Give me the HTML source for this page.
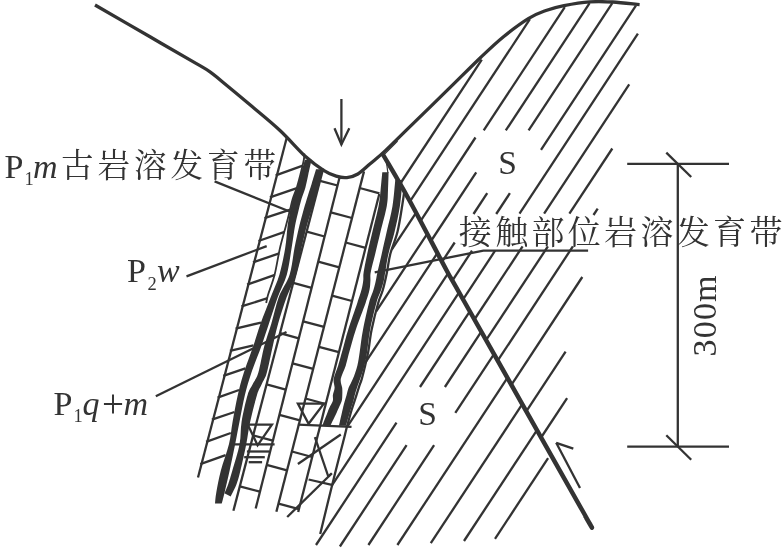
<!DOCTYPE html>
<html lang="zh"><head><meta charset="utf-8"><title>Karst development zones cross-section</title>
<style>
html,body{margin:0;padding:0;background:#fff;}
body{width:783px;height:550px;overflow:hidden;font-family:"Liberation Serif",serif;}
svg{display:block;filter:grayscale(1);}
</style></head><body>
<svg width="783" height="550" viewBox="0 0 783 550" stroke="#333" fill="#333" stroke-linecap="butt" font-family="Liberation Serif, serif">
<g stroke="#333" fill="none">
<line x1="481.8" y1="59.6" x2="400.0" y2="184.0" stroke-width="2.30"/>
<line x1="529.9" y1="19.2" x2="410.0" y2="201.4" stroke-width="2.30"/>
<line x1="564.8" y1="7.2" x2="483.7" y2="130.4" stroke-width="2.30"/>
<line x1="475.5" y1="137.5" x2="420.5" y2="221.2" stroke-width="2.30"/>
<line x1="589.6" y1="3.1" x2="505.8" y2="130.4" stroke-width="2.30"/>
<line x1="476.2" y1="172.4" x2="431.0" y2="241.0" stroke-width="2.30"/>
<line x1="612.3" y1="3.1" x2="528.6" y2="130.3" stroke-width="2.30"/>
<line x1="487.2" y1="193.2" x2="473.5" y2="214.0" stroke-width="2.30"/>
<line x1="454.7" y1="242.5" x2="442.0" y2="261.8" stroke-width="2.30"/>
<line x1="635.9" y1="5.6" x2="541.0" y2="149.8" stroke-width="2.30"/>
<line x1="509.9" y1="193.2" x2="496.2" y2="214.0" stroke-width="2.30"/>
<line x1="472.0" y1="250.7" x2="452.4" y2="280.6" stroke-width="2.30"/>
<line x1="637.9" y1="33.7" x2="519.5" y2="213.7" stroke-width="2.30"/>
<line x1="495.1" y1="250.7" x2="463.1" y2="299.4" stroke-width="2.30"/>
<line x1="629.2" y1="84.3" x2="544.1" y2="213.7" stroke-width="2.30"/>
<line x1="522.6" y1="246.4" x2="474.4" y2="319.5" stroke-width="2.30"/>
<line x1="612.3" y1="148.5" x2="569.4" y2="213.7" stroke-width="2.30"/>
<line x1="547.9" y1="246.4" x2="486.1" y2="340.2" stroke-width="2.30"/>
<line x1="597.7" y1="208.6" x2="593.5" y2="215.0" stroke-width="2.30"/>
<line x1="572.9" y1="246.4" x2="497.7" y2="360.7" stroke-width="2.30"/>
<line x1="582.3" y1="277.0" x2="511.4" y2="384.9" stroke-width="2.30"/>
<line x1="565.6" y1="351.6" x2="526.3" y2="411.3" stroke-width="2.30"/>
<line x1="567.1" y1="398.1" x2="541.1" y2="437.5" stroke-width="2.30"/>
<line x1="391.7" y1="249.7" x2="416.0" y2="212.8" stroke-width="2.30"/>
<line x1="376.2" y1="311.3" x2="427.2" y2="233.8" stroke-width="2.30"/>
<line x1="366.0" y1="361.6" x2="437.4" y2="253.1" stroke-width="2.30"/>
<line x1="347.8" y1="425.8" x2="448.2" y2="273.2" stroke-width="2.30"/>
<line x1="332.1" y1="485.2" x2="459.1" y2="292.3" stroke-width="2.30"/>
<line x1="469.8" y1="311.3" x2="420.0" y2="387.0" stroke-width="2.30"/>
<line x1="396.5" y1="422.7" x2="316.0" y2="545.0" stroke-width="2.30"/>
<line x1="481.3" y1="331.6" x2="444.9" y2="387.0" stroke-width="2.30"/>
<line x1="406.6" y1="445.1" x2="339.9" y2="546.5" stroke-width="2.30"/>
<line x1="494.0" y1="354.1" x2="455.3" y2="412.9" stroke-width="2.30"/>
<line x1="434.1" y1="445.1" x2="368.4" y2="545.0" stroke-width="2.30"/>
<line x1="507.4" y1="377.8" x2="397.4" y2="545.0" stroke-width="2.30"/>
<line x1="522.3" y1="404.1" x2="430.8" y2="543.2" stroke-width="2.30"/>
<line x1="537.0" y1="430.1" x2="464.0" y2="541.0" stroke-width="2.30"/>
<line x1="548.1" y1="458.1" x2="495.0" y2="538.8" stroke-width="2.30"/>
<line x1="286.8" y1="137.5" x2="198.0" y2="477.5" stroke-width="2.30"/>
<line x1="323.2" y1="168.5" x2="233.4" y2="510.8" stroke-width="2.30"/>
<line x1="339.8" y1="176.5" x2="255.7" y2="508.5" stroke-width="2.30"/>
<line x1="364.0" y1="171.4" x2="276.4" y2="511.7" stroke-width="2.30"/>
<line x1="379.3" y1="194.0" x2="298.2" y2="512.0" stroke-width="2.30"/>
<path d="M404.3,191.0 C404.0,193.3 403.4,198.2 402.3,205.0 C401.2,211.8 399.5,223.6 397.5,231.8 C395.5,240.0 392.1,247.3 390.3,254.0 C388.6,260.7 388.2,266.0 387.0,272.0 C385.8,278.0 384.3,284.8 382.8,290.0 C381.3,295.2 380.1,296.4 378.2,303.0 C376.3,309.6 373.3,321.6 371.6,329.8 C369.9,338.0 369.3,346.1 368.2,352.0 C367.1,357.9 366.3,360.9 365.2,365.4 C364.1,369.9 362.9,375.1 361.8,378.8 C360.7,382.5 359.8,384.4 358.7,387.8 C357.6,391.2 356.4,395.3 355.2,399.0 C354.0,402.7 352.9,405.7 351.6,410.0 C350.3,414.3 348.7,420.2 347.4,425.0 C346.1,429.8 346.1,430.2 343.9,439.0 C341.6,447.8 337.8,462.2 333.9,478.0 C329.9,493.8 322.5,524.7 320.2,534.0" stroke-width="2.30" fill="none"/>
<line x1="320.0" y1="180.8" x2="337.6" y2="185.5" stroke-width="2.30"/>
<line x1="306.7" y1="231.6" x2="324.6" y2="236.5" stroke-width="2.30"/>
<line x1="293.2" y1="282.9" x2="311.6" y2="287.9" stroke-width="2.30"/>
<line x1="280.0" y1="333.2" x2="298.8" y2="338.3" stroke-width="2.30"/>
<line x1="266.6" y1="384.4" x2="285.8" y2="389.6" stroke-width="2.30"/>
<line x1="253.2" y1="435.4" x2="272.9" y2="440.7" stroke-width="2.30"/>
<line x1="239.8" y1="486.3" x2="259.9" y2="491.7" stroke-width="2.30"/>
<line x1="330.8" y1="212.3" x2="352.0" y2="218.0" stroke-width="2.30"/>
<line x1="318.2" y1="261.7" x2="339.3" y2="267.4" stroke-width="2.30"/>
<line x1="303.1" y1="321.3" x2="324.0" y2="326.9" stroke-width="2.30"/>
<line x1="292.5" y1="363.3" x2="313.2" y2="368.9" stroke-width="2.30"/>
<line x1="279.4" y1="414.9" x2="299.9" y2="420.4" stroke-width="2.30"/>
<line x1="266.7" y1="464.9" x2="287.0" y2="470.4" stroke-width="2.30"/>
<line x1="359.7" y1="188.0" x2="379.5" y2="193.3" stroke-width="2.30"/>
<line x1="345.7" y1="242.5" x2="365.6" y2="247.9" stroke-width="2.30"/>
<line x1="332.0" y1="295.6" x2="352.0" y2="301.0" stroke-width="2.30"/>
<line x1="318.9" y1="346.8" x2="338.9" y2="352.2" stroke-width="2.30"/>
<line x1="305.5" y1="398.5" x2="325.7" y2="404.0" stroke-width="2.30"/>
<line x1="291.9" y1="451.5" x2="312.2" y2="457.0" stroke-width="2.30"/>
<line x1="278.5" y1="503.6" x2="298.9" y2="509.1" stroke-width="2.30"/>
<line x1="308.6" y1="479.5" x2="331.9" y2="484.9" stroke-width="2.30"/>
<path d="M304.9,159.8 C304.2,162.3 301.9,170.3 300.6,175.0 C299.3,179.7 298.3,184.0 297.0,188.0 C295.7,192.0 294.2,195.0 293.0,199.0 C291.8,203.0 290.9,207.5 290.0,212.0 C289.1,216.5 288.4,220.0 287.6,226.0 C286.8,232.0 286.6,239.9 285.2,248.0 C283.8,256.1 281.8,266.6 279.4,274.8 C277.0,283.0 273.9,288.8 270.8,297.0 C267.7,305.2 263.4,315.6 260.5,323.8 C257.6,332.0 256.1,337.8 253.3,346.0 C250.5,354.2 246.4,364.6 243.8,372.8 C241.2,381.0 239.7,386.8 237.8,395.0 C235.9,403.2 234.1,413.6 232.6,421.8 C231.1,430.0 231.0,435.8 229.0,444.0 C227.0,452.2 222.9,462.7 220.8,470.8 C218.7,478.9 217.3,486.9 216.3,492.4 C215.3,497.9 215.2,501.7 215.0,503.6 L221.7,503.6 C222.2,501.7 223.3,497.9 224.6,492.4 C225.9,486.9 227.8,478.9 229.6,470.8 C231.4,462.7 233.5,452.2 235.2,444.0 C236.8,435.8 237.9,430.0 239.5,421.8 C241.1,413.6 242.9,403.2 244.9,395.0 C246.9,386.8 248.7,381.0 251.4,372.8 C254.2,364.6 258.5,354.2 261.4,346.0 C264.3,337.8 266.2,332.0 268.9,323.8 C271.6,315.6 274.8,305.2 277.8,297.0 C280.8,288.8 284.5,283.0 286.8,274.8 C289.1,266.6 290.2,256.1 291.6,248.0 C293.0,239.9 293.9,232.0 295.0,226.0 C296.1,220.0 297.1,216.5 298.2,212.0 C299.3,207.5 300.3,203.0 301.5,199.0 C302.7,195.0 304.2,192.0 305.3,188.0 C306.4,184.0 307.1,179.7 308.2,175.0 C309.2,170.3 311.0,162.3 311.6,159.8 Z" fill="#333" stroke="none"/>
<line x1="275.7" y1="175.3" x2="302.8" y2="165.6" stroke-width="2.30"/>
<line x1="269.9" y1="197.3" x2="296.9" y2="188.2" stroke-width="2.30"/>
<line x1="264.5" y1="218.2" x2="290.4" y2="209.6" stroke-width="2.30"/>
<line x1="258.5" y1="241.0" x2="284.6" y2="231.8" stroke-width="2.30"/>
<line x1="253.0" y1="262.3" x2="279.2" y2="253.4" stroke-width="2.30"/>
<line x1="247.1" y1="284.7" x2="274.9" y2="274.9" stroke-width="2.30"/>
<line x1="241.5" y1="306.4" x2="267.6" y2="298.2" stroke-width="2.30"/>
<line x1="235.6" y1="328.7" x2="261.0" y2="322.6" stroke-width="2.30"/>
<line x1="229.9" y1="350.9" x2="253.5" y2="345.3" stroke-width="2.30"/>
<line x1="223.3" y1="375.9" x2="245.4" y2="368.3" stroke-width="2.30"/>
<line x1="217.6" y1="397.7" x2="239.1" y2="390.0" stroke-width="2.30"/>
<line x1="211.9" y1="419.6" x2="234.5" y2="412.0" stroke-width="2.30"/>
<line x1="206.1" y1="441.9" x2="230.8" y2="433.0" stroke-width="2.30"/>
<line x1="200.3" y1="464.1" x2="225.6" y2="455.1" stroke-width="2.30"/>
<path d="M316.0,169.2 C315.3,171.7 313.1,179.0 311.6,184.0 C310.1,189.0 308.2,194.3 306.8,199.0 C305.4,203.7 304.2,207.5 303.0,212.0 C301.8,216.5 300.7,220.0 299.3,226.0 C297.9,232.0 296.1,239.9 294.5,248.0 C292.9,256.1 292.2,266.6 289.6,274.8 C287.0,283.0 281.9,288.8 278.8,297.0 C275.8,305.2 273.7,315.6 271.3,323.8 C268.9,332.0 266.5,337.8 264.3,346.0 C262.1,354.2 260.2,366.5 258.3,372.8 C256.4,379.1 254.6,380.3 252.8,384.0 C251.0,387.7 249.5,388.7 247.6,395.0 C245.7,401.3 242.9,413.6 241.6,421.8 C240.3,430.0 241.1,435.8 239.6,444.0 C238.1,452.2 234.2,464.1 232.3,470.8 C230.4,477.5 229.6,480.2 228.3,484.0 C227.0,487.8 225.1,491.8 224.4,493.3 L230.7,496.5 C231.7,494.4 235.0,488.3 236.6,484.0 C238.2,479.7 238.8,477.5 240.4,470.8 C242.0,464.1 244.7,452.2 246.3,444.0 C247.9,435.8 248.4,430.0 250.2,421.8 C252.0,413.6 255.1,401.3 257.0,395.0 C258.9,388.7 260.2,387.7 261.8,384.0 C263.4,380.3 265.0,379.1 266.8,372.8 C268.6,366.5 270.9,354.2 272.8,346.0 C274.7,337.8 275.8,332.0 278.1,323.8 C280.4,315.6 283.7,305.2 286.7,297.0 C289.7,288.8 293.7,283.0 296.2,274.8 C298.7,266.6 299.7,256.1 301.5,248.0 C303.3,239.9 305.2,232.0 306.8,226.0 C308.4,220.0 309.6,216.5 311.0,212.0 C312.4,207.5 313.8,203.7 315.2,199.0 C316.6,194.3 318.4,189.0 319.6,184.0 C320.9,179.0 322.2,171.7 322.7,169.2 Z" fill="#333" stroke="none"/>
<path d="M304.3,153.5 C304.2,154.6 304.5,156.4 303.8,160.0 C303.1,163.6 301.5,170.3 300.3,175.0 C299.1,179.7 298.0,184.0 296.7,188.0 C295.4,192.0 293.9,195.0 292.7,199.0 C291.5,203.0 290.6,207.5 289.5,212.0 C288.4,216.5 287.5,220.0 285.9,226.0 C284.3,232.0 281.9,239.9 280.0,248.0 C278.1,256.1 276.6,267.0 274.6,274.8 C272.6,282.6 269.4,290.3 268.0,295.0 C266.6,299.7 266.5,301.7 266.2,303.0" stroke-width="1.80" fill="none"/>
<path d="M382.3,172.3 C382.0,175.2 381.2,184.4 380.6,190.0 C380.0,195.6 380.0,199.0 378.6,206.0 C377.2,213.0 374.3,223.8 372.4,231.8 C370.5,239.8 368.6,247.3 367.2,254.0 C365.8,260.7 364.4,267.4 363.7,271.9 C363.0,276.4 363.6,277.8 363.2,280.8 C362.8,283.8 362.5,286.1 361.5,289.8 C360.5,293.5 359.5,296.3 357.3,303.0 C355.1,309.7 350.8,321.6 348.2,329.8 C345.6,338.0 343.7,346.1 342.0,352.0 C340.3,357.9 339.6,360.9 338.2,365.4 C336.8,369.9 334.3,375.1 333.7,378.8 C333.1,382.5 334.7,385.1 334.6,387.8 C334.5,390.5 333.2,392.8 332.9,395.0 C332.6,397.2 333.4,398.9 332.8,401.0 C332.2,403.1 330.5,405.3 329.3,407.9 C328.1,410.5 326.9,414.0 325.8,416.8 C324.7,419.6 323.1,423.5 322.6,424.9 L330.7,424.9 C331.4,423.5 333.4,419.6 334.7,416.8 C336.0,414.0 337.5,410.5 338.7,407.9 C339.9,405.3 341.1,403.1 341.7,401.0 C342.3,398.9 342.2,397.2 342.3,395.0 C342.4,392.8 342.4,390.5 342.2,387.8 C341.9,385.1 340.2,382.5 340.8,378.8 C341.4,375.1 344.4,369.9 345.8,365.4 C347.2,360.9 347.6,357.9 349.3,352.0 C351.0,346.1 353.1,338.0 355.8,329.8 C358.5,321.6 363.3,309.7 365.6,303.0 C367.9,296.3 368.7,293.5 369.5,289.8 C370.3,286.1 370.2,283.8 370.4,280.8 C370.6,277.8 370.0,276.4 370.8,271.9 C371.6,267.4 373.6,260.7 375.2,254.0 C376.8,247.3 378.6,239.8 380.5,231.8 C382.4,223.8 385.6,213.0 386.8,206.0 C388.1,199.0 387.7,195.6 388.0,190.0 C388.3,184.4 388.5,175.2 388.6,172.3 Z" fill="#333" stroke="none"/>
<path d="M395.3,179.9 C394.8,184.2 393.9,197.3 392.5,206.0 C391.1,214.7 388.5,223.8 386.7,231.8 C384.9,239.8 383.2,247.3 381.7,254.0 C380.2,260.7 378.5,267.4 377.5,271.9 C376.5,276.4 376.5,277.8 375.8,280.8 C375.1,283.8 374.6,286.1 373.5,289.8 C372.4,293.5 370.8,296.3 369.0,303.0 C367.2,309.7 364.6,321.6 363.0,329.8 C361.4,338.0 360.6,346.1 359.7,352.0 C358.8,357.9 358.5,360.9 357.4,365.4 C356.3,369.9 354.4,375.1 352.9,378.8 C351.4,382.5 349.7,385.1 348.6,387.8 C347.6,390.5 347.2,392.8 346.6,395.0 C346.0,397.2 345.4,398.9 344.8,401.0 C344.2,403.1 344.0,403.8 343.0,407.9 C342.0,412.0 339.6,422.8 338.9,425.8 L345.9,425.8 C346.8,422.8 349.9,412.0 351.2,407.9 C352.4,403.8 352.8,403.1 353.4,401.0 C354.0,398.9 354.2,397.2 354.8,395.0 C355.4,392.8 356.1,390.5 357.0,387.8 C357.9,385.1 358.9,382.5 360.2,378.8 C361.4,375.1 363.4,369.9 364.5,365.4 C365.6,360.9 366.2,357.9 367.1,352.0 C368.0,346.1 368.6,338.0 370.1,329.8 C371.7,321.6 374.5,309.7 376.4,303.0 C378.2,296.3 380.0,293.5 381.2,289.8 C382.4,286.1 383.1,283.8 383.8,280.8 C384.5,277.8 384.5,276.4 385.3,271.9 C386.1,267.4 386.8,260.7 388.4,254.0 C389.9,247.3 392.7,239.8 394.6,231.8 C396.5,223.8 398.6,214.7 399.9,206.0 C401.2,197.3 402.1,184.2 402.5,179.9 Z" fill="#333" stroke="none"/>
<line x1="387.9" y1="173.0" x2="386.6" y2="163.5" stroke-width="1.20"/>
<line x1="297.9" y1="424.7" x2="351.5" y2="426.8" stroke-width="2.30"/>
<path d="M297.9,403.6 L323.8,403.6 L308.6,423.8 Z" stroke-width="2.30" fill="none"/>
<path d="M247.8,424.7 L271.9,424.7 L257.6,445.3 Z" stroke-width="2.30" fill="none"/>
<line x1="234.4" y1="444.4" x2="274.6" y2="444.4" stroke-width="2.30"/>
<line x1="246.9" y1="451.5" x2="269.2" y2="451.5" stroke-width="2.30"/>
<line x1="244.2" y1="457.2" x2="264.8" y2="457.2" stroke-width="2.30"/>
<line x1="248.7" y1="462.2" x2="262.1" y2="462.2" stroke-width="2.30"/>
<line x1="297.9" y1="464.0" x2="340.8" y2="434.5" stroke-width="2.30"/>
<line x1="314.9" y1="437.2" x2="328.3" y2="476.5" stroke-width="2.30"/>
<line x1="328.3" y1="476.5" x2="331.5" y2="473.5" stroke-width="2.30"/>
<line x1="287.2" y1="517.0" x2="331.9" y2="473.2" stroke-width="2.30"/>
<path d="M382.7,154.0 C387.1,161.7 398.6,180.7 409.2,200.0 C419.8,219.3 437.4,253.3 446.4,270.0 C455.4,286.7 440.8,260.0 463.4,300.0 C486.0,340.0 561.7,473.9 582.1,510.0 C602.5,546.1 585.0,515.7 585.6,516.8" stroke-width="4.50" fill="none"/>
<line x1="384.9" y1="153.9" x2="397.6" y2="141.2" stroke-width="1.20"/>
<line x1="556.2" y1="442.8" x2="580.0" y2="488.0" stroke-width="2.30"/>
<line x1="556.2" y1="442.8" x2="573.3" y2="448.7" stroke-width="2.30"/>
<path d="M95.0,5.0 C104.2,10.3 133.2,27.1 150.0,36.8 C166.8,46.5 186.0,57.6 196.0,63.4 C206.0,69.2 205.7,68.8 210.0,71.8 C214.3,74.8 215.3,76.0 222.0,81.5 C228.7,87.0 240.3,96.6 250.0,104.8 C259.7,113.0 270.7,121.8 280.0,130.5 C289.3,139.2 298.5,150.2 305.8,156.8 C313.1,163.4 318.5,167.1 323.6,170.3 C328.7,173.5 332.3,175.0 336.2,176.2 C340.1,177.4 343.3,178.0 346.9,177.6 C350.5,177.2 353.9,176.4 357.9,174.0 C361.9,171.6 366.2,167.1 370.8,163.2 C375.4,159.3 378.7,156.9 385.4,150.6 C392.1,144.3 400.6,135.7 411.0,125.6 C421.4,115.5 436.0,101.2 447.6,89.9 C459.2,78.6 471.1,66.6 480.4,57.7 C489.7,48.8 495.5,43.2 503.5,36.7 C511.5,30.2 521.2,23.0 528.3,18.6 C535.4,14.2 540.0,12.7 546.0,10.5 C552.0,8.3 556.7,7.0 564.0,5.6 C571.3,4.2 581.7,2.5 589.8,1.9 C597.9,1.3 604.5,1.6 612.8,2.0 C621.1,2.5 635.1,4.2 639.6,4.6" stroke-width="3.30" fill="none" stroke-linecap="butt"/>
<line x1="341.4" y1="99.0" x2="341.4" y2="144.4" stroke-width="2.30"/>
<path d="M334.5,128.3 L341.4,144.4 L349.3,128.3" stroke-width="2.30" fill="none"/>
<line x1="214.6" y1="181.4" x2="296.5" y2="214.2" stroke-width="2.30"/>
<line x1="186.5" y1="276.3" x2="266.7" y2="246.1" stroke-width="2.30"/>
<line x1="155.8" y1="396.2" x2="286.5" y2="332.0" stroke-width="2.30"/>
<path d="M374.7,272.4 L483.4,250.6 L588.1,250.6" stroke-width="2.30" fill="none"/>
<line x1="677.8" y1="163.9" x2="677.8" y2="446.6" stroke-width="2.30"/>
<line x1="627.2" y1="163.9" x2="729.0" y2="163.9" stroke-width="2.30"/>
<line x1="627.2" y1="446.6" x2="729.0" y2="446.6" stroke-width="2.30"/>
<line x1="666.3" y1="152.6" x2="691.2" y2="177.0" stroke-width="2.30"/>
<line x1="666.3" y1="435.2" x2="691.2" y2="459.7" stroke-width="2.30"/>
</g>
<g stroke="none" fill="#333" opacity="0.999">
<text x="4.5" y="178.4" font-size="34.0">P</text>
<text x="24.6" y="185.3" font-size="18.5">1</text>
<text x="33.0" y="178.4" font-size="34.0" font-style="italic">m</text>
<text x="61.1" y="176.8" font-size="32.5" textLength="215" lengthAdjust="spacing" font-family="'Liberation Serif', 'Noto Serif CJK SC', serif" fill="#333" stroke="none">古岩溶发育带</text>
<text x="127.0" y="282.0" font-size="34.0">P</text>
<text x="147.6" y="289.8" font-size="18.5">2</text>
<text x="157.0" y="282.0" font-size="34.0" font-style="italic">w</text>
<text x="53.5" y="415.2" font-size="34.0">P</text>
<text x="73.6" y="422.3" font-size="18.5">1</text>
<text x="82.5" y="415.2" font-size="34.0" font-style="italic">q</text>
<text x="102.0" y="416.6" font-size="39.0">+</text>
<text x="123.5" y="415.2" font-size="34.0" font-style="italic">m</text>
<text x="498.2" y="174.2" font-size="33.5">S</text>
<text x="418.2" y="425.4" font-size="33.5">S</text>
<text x="458.8" y="243.5" font-size="33" textLength="323.6" lengthAdjust="spacing" font-family="'Liberation Serif', 'Noto Serif CJK SC', serif" fill="#333" stroke="none">接触部位岩溶发育带</text>
<text transform="translate(716,356.5) rotate(-90)" font-size="34" letter-spacing="1.2">300m</text>
</g>
</svg>
</body></html>
